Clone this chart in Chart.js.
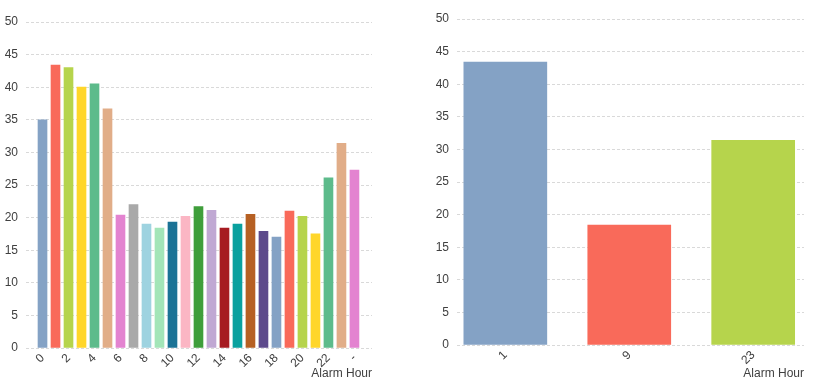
<!DOCTYPE html>
<html>
<head>
<meta charset="utf-8">
<script src="https://cdn.jsdelivr.net/npm/chart.js@4/dist/chart.umd.min.js"></script>
<style>
html,body{margin:0;padding:0;background:#fff;width:819px;height:383px;overflow:hidden;}
#c1{position:absolute;left:0;top:0;}
#c2{position:absolute;left:410px;top:0;}
</style>
</head>
<body>
<canvas id="c1" width="400" height="383"></canvas>
<canvas id="c2" width="409" height="383"></canvas>
<script>
// ---- Data ----
const hourCategories = ['0','1','2','3','4','5','6','7','8','9','10','11','12','13','14','15','16','17','18','19','20','21','22','23','-'];
const hourValues = [35.0,43.4,43.0,40.0,40.5,36.7,20.4,22.0,19.0,18.4,19.3,20.2,21.7,21.1,18.4,19.0,20.5,17.9,17.0,21.0,20.2,17.5,26.1,31.4,27.3];
const peakCategories = ['1','9','23'];
const peakValues = [43.4,18.4,31.4];
const yTicks = [0,5,10,15,20,25,30,35,40,45,50];
const axisTitle = 'Alarm Hour';

const palette = ['#84a2c5','#f96a5a','#b6d44c','#ffd62a','#5dbb8b','#e1ad88','#e383d0','#a9a9a9','#9ed3e0','#a3e5b8','#1b7396','#fbb6c4','#3f9e3b','#c0a8d3','#a61b21','#0aa19f','#b66023','#5d4a8b'];

const FONT = {family: '"Liberation Sans", Arial, sans-serif', size: 12};
const TEXT = '#404040';

function makeChart(id, cats, vals, cfg) {
  return new Chart(document.getElementById(id), {
    type: 'bar',
    data: {
      datasets: [{
        data: cats.map((c, i) => ({x: i, y: vals[i]})),
        backgroundColor: cats.map((c, i) => palette[i % palette.length]),
        borderWidth: 0,
        barThickness: cfg.barThickness
      }]
    },
    options: {
      responsive: false,
      animation: false,
      devicePixelRatio: 1,
      layout: {padding: {left: 0, right: cfg.padRight, top: cfg.padTop, bottom: 0}},
      plugins: {legend: {display: false}, tooltip: {enabled: false}},
      scales: {
        x: {
          type: 'linear',
          offset: false,
          min: cfg.xMin,
          max: cfg.xMax,
          grid: {display: false, drawTicks: false, offset: false},
          border: {display: false},
          afterBuildTicks: s => { s.ticks = cats.map((c, i) => ({value: i})).filter((t, i) => i % cfg.every === 0); },
          afterFit: s => { s.height = cfg.xHeight; },
          ticks: {
            autoSkip: false,
            minRotation: 45, maxRotation: 45,
            padding: 3,
            color: TEXT,
            font: FONT,
            callback: v => cats[v]
          },
          title: {display: true, text: axisTitle, align: 'end', color: TEXT, font: FONT, padding: {top: 0, bottom: 2}}
        },
        y: {
          min: 0, max: 50,
          afterBuildTicks: s => { s.ticks = yTicks.map(v => ({value: v})); },
          afterFit: s => { s.width = cfg.yWidth; },
          grid: {color: '#d9d9d9', drawTicks: false, lineWidth: 1},
          border: {display: false, dash: [3, 2]},
          ticks: {padding: 8, color: TEXT, font: FONT}
        }
      }
    }
  });
}

makeChart('c1', hourCategories, hourValues, {
  barThickness: 9, xMin: -1.27, xMax: 25.35, every: 2,
  yWidth: 26, xHeight: 35, padTop: 22, padRight: 28
});
makeChart('c2', peakCategories, peakValues, {
  barThickness: 83, xMin: -0.39, xMax: 2.41, every: 1,
  yWidth: 47, xHeight: 38, padTop: 19, padRight: 15
});
</script>
</body>
</html>
